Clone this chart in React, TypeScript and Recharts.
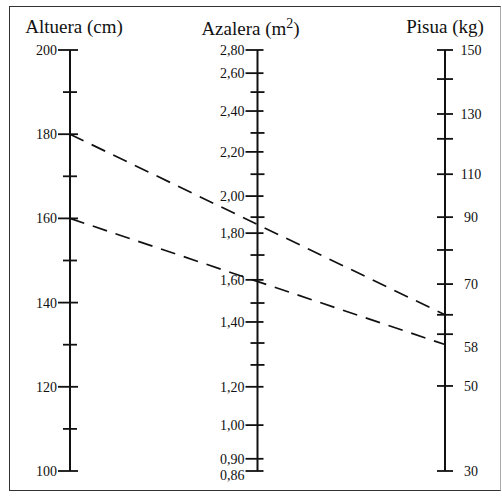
import { ComposedChart, XAxis, YAxis, Line, Scatter } from "recharts";

const FONT = '"Liberation Serif", "Times New Roman", serif';
const INK = "#111";

// nomogram columns: 0 = height, 1 = body surface, 2 = weight
const TITLES = ["Altuera (cm)", "Azalera (m", "Pisua (kg)"];

// height scale is linear
const HEIGHT_TICKS = [200, 190, 180, 170, 160, 150, 140, 130, 120, 110, 100];
const HEIGHT_LABELS = [200, 180, 160, 140, 120, 100];
const HEIGHT_LEVELS = [100, 90, 80, 70, 60, 50, 40, 30, 20, 10, 0];

const BSA_TICKS = [2.8, 2.6, 2.5, 2.4, 2.3, 2.2, 2.1, 2.0, 1.9, 1.8, 1.7, 1.6, 1.5, 1.4, 1.33, 1.27, 1.2, 1.0, 0.9, 0.86];
const BSA_LEVELS = [100, 94.5, 90, 85.5, 80.3, 75.8, 70.5, 65.3, 60.3, 56.5, 51.3, 45.4, 39.9, 35.4, 30.4, 25.2, 20, 10.9, 2.9, 0];
const BSA_LABELS = [2.8, 2.6, 2.4, 2.2, 2.0, 1.8, 1.6, 1.4, 1.2, 1.0, 0.9, 0.86];

const WEIGHT_TICKS = [150, 140, 130, 120, 110, 90, 80, 70, 65, 60, 50, 30];
const WEIGHT_LEVELS = [100, 93.1, 84.8, 78.9, 70.5, 60.3, 52.5, 44.4, 37.1, 32.5, 20.2, 0];
const WEIGHT_LABELS = [150, 130, 110, 90, 70, 58, 50, 30];

// worked examples (height cm, weight kg)
const READ_HEIGHT = [180, 160];
const READ_WEIGHT = [65, 58];

interface Mark {
  col: number;
  level: number;
  tick: boolean;
  major: boolean;
  label?: string;
}

function levelOf(v: number, values: number[], levels: number[]) {
  for (let i = 0; i < values.length - 1; i++) {
    const a = values[i];
    const b = values[i + 1];
    if (v <= a && v >= b) {
      const t = (a - v) / (a - b);
      return levels[i] + t * (levels[i + 1] - levels[i]);
    }
  }
  return v > values[0] ? levels[0] : levels[levels.length - 1];
}

function buildMarks(
  col: number,
  ticks: number[],
  levels: number[],
  labels: number[],
  fmt: (v: number) => string
): Mark[] {
  const marks: Mark[] = ticks.map((v) => ({
    col,
    level: levelOf(v, ticks, levels),
    tick: true,
    major: labels.includes(v),
    label: labels.includes(v) ? fmt(v) : undefined,
  }));
  labels
    .filter((v) => !ticks.includes(v))
    .forEach((v) =>
      marks.push({ col, level: levelOf(v, ticks, levels), tick: false, major: false, label: fmt(v) })
    );
  return marks;
}

const marks: Mark[] = [
  ...buildMarks(0, HEIGHT_TICKS, HEIGHT_LEVELS, HEIGHT_LABELS, (v) => String(v)),
  ...buildMarks(1, BSA_TICKS, BSA_LEVELS, BSA_LABELS, (v) => v.toFixed(2).replace(".", ",")),
  ...buildMarks(2, WEIGHT_TICKS, WEIGHT_LEVELS, WEIGHT_LABELS, (v) => String(v)),
];

const axisLines = [0, 1, 2].map((col) => [
  { col, level: 0 },
  { col, level: 100 },
]);

const readings = READ_HEIGHT.map((h, i) => [
  { col: 0, level: levelOf(h, HEIGHT_TICKS, HEIGHT_LEVELS) },
  { col: 2, level: levelOf(READ_WEIGHT[i], WEIGHT_TICKS, WEIGHT_LEVELS) },
]);

const titles = TITLES.map((title, col) => ({ col, level: 100, title }));

function AxisMark(props: any) {
  const { cx, cy, payload } = props;
  const m = payload as Mark;
  if (cx == null || cy == null) return null;
  let x1 = cx - 7;
  let x2 = cx + 7;
  let tx = cx - 13;
  let anchor: "end" | "middle" = "end";
  let dy = 5;
  if (m.col === 2) {
    x1 = cx - 8;
    x2 = cx + 8;
    tx = cx + 26;
    anchor = "middle";
    if (!m.tick) dy = 7;
  } else if (m.major) {
    x1 = cx - 12;
    x2 = cx + (m.col === 0 ? 8 : 6);
  }
  if (m.col === 1 && m.level === 0) dy = 9;
  return (
    <g>
      {m.tick && <line x1={x1} x2={x2} y1={cy} y2={cy} stroke={INK} strokeWidth={1.8} />}
      {m.label && (
        <text x={tx} y={cy + dy} textAnchor={anchor} fontFamily={FONT} fontSize={14} fill={INK}>
          {m.label}
        </text>
      )}
    </g>
  );
}

function AxisTitle(props: any) {
  const { cx, cy, payload } = props;
  if (cx == null || cy == null) return null;
  const nudge = payload.col === 0 ? 4 : payload.col === 1 ? -7 : 0;
  return (
    <text
      x={cx + nudge}
      y={cy - 17 + (payload.col === 1 ? 2 : 0)}
      textAnchor="middle"
      fontFamily={FONT}
      fontSize={19}
      fill={INK}
    >
      {payload.title}
      {payload.col === 1 && (
        <>
          <tspan fontSize={14} dy={-7}>
            2
          </tspan>
          <tspan dy={7}>)</tspan>
        </>
      )}
    </text>
  );
}

export default function App() {
  return (
    <div style={{ position: "absolute", left: 0, top: 0, width: 502, height: 497, background: "#fff" }}>
      <div
        style={{
          position: "absolute",
          left: 9,
          top: 6,
          width: 490,
          height: 483,
          borderTop: "1.5px solid #333",
          borderLeft: "1.5px solid #333",
          borderBottom: "1.5px solid #333",
          borderRight: "1.5px solid #aaa",
        }}
      />
      <div style={{ position: "absolute", left: 0, top: 0 }}>
        <ComposedChart width={502} height={497} margin={{ top: 50, right: 57, bottom: 26, left: 70 }}>
          <XAxis type="number" dataKey="col" domain={[0, 2]} hide />
          <YAxis type="number" dataKey="level" domain={[0, 100]} hide />
          {axisLines.map((d, i) => (
            <Line
              key={`axis-${i}`}
              data={d}
              dataKey="level"
              stroke={INK}
              strokeWidth={2}
              dot={false}
              isAnimationActive={false}
            />
          ))}
          {readings.map((d, i) => (
            <Line
              key={`read-${i}`}
              data={d}
              dataKey="level"
              stroke={INK}
              strokeWidth={1.7}
              strokeDasharray="15 9"
              dot={false}
              isAnimationActive={false}
            />
          ))}
          <Scatter data={marks} dataKey="level" shape={AxisMark} isAnimationActive={false} />
          <Scatter data={titles} dataKey="level" shape={AxisTitle} isAnimationActive={false} />
        </ComposedChart>
      </div>
    </div>
  );
}
